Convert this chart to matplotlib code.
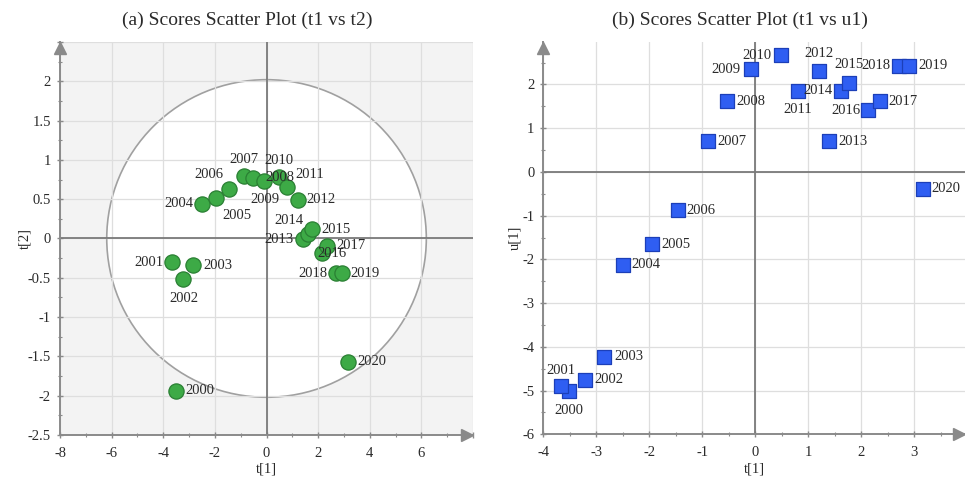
import matplotlib.pyplot as plt
import numpy as np
from matplotlib.patches import Ellipse
from matplotlib.ticker import MultipleLocator

plt.rcParams['font.family'] = ['Liberation Serif', 'DejaVu Serif']

# scores per year
years = [str(y) for y in range(2000, 2021)]
t1 = [-3.51, -3.66, -3.22, -2.85, -2.50, -1.94, -1.46, -0.89, -0.53, -0.08,
      0.48, 0.81, 1.21, 1.40, 1.62, 1.77, 2.13, 2.35, 2.71, 2.91, 3.17]
t2 = [-1.94, -0.30, -0.52, -0.34, 0.44, 0.51, 0.63, 0.79, 0.77, 0.73,
      0.78, 0.65, 0.49, -0.01, 0.06, 0.12, -0.18, -0.09, -0.44, -0.44, -1.57]
u1 = [-5.01, -4.90, -4.75, -4.23, -2.12, -1.65, -0.88, 0.70, 1.62, 2.35,
      2.67, 1.85, 2.31, 0.70, 1.85, 2.04, 1.41, 1.62, 2.43, 2.43, -0.38]

# Hotelling T2 ellipse radii for the t1/t2 plot
t2_ellipse = (6.19, 2.02)

# label offsets in pixels (dx, dy) relative to each marker
off_a = {'2000': (9, 0), '2001': (-9, 0), '2002': (0, -19), '2003': (10, 0),
         '2004': (-9, 0), '2005': (20, -17), '2006': (-20, 14), '2007': (0, 17),
         '2008': (13, 0), '2009': (0, -18), '2010': (0, 17), '2011': (22, 13),
         '2012': (9, 0), '2013': (-9, 0), '2014': (-19, 13), '2015': (9, 0),
         '2016': (10, -1), '2017': (9, 0), '2018': (-9, 0), '2019': (9, 0),
         '2020': (9, 0)}
off_b = {'2000': (0, -19), '2001': (0, 16), '2002': (10, 0), '2003': (10, 0),
         '2004': (9, 0), '2005': (9, 0), '2006': (9, 0), '2007': (9, 0),
         '2008': (9, 0), '2009': (-10, 0), '2010': (-9, 0), '2011': (0, -19),
         '2012': (0, 17), '2013': (9, 0), '2014': (-9, 0), '2015': (0, 18),
         '2016': (-8, 0), '2017': (9, 0), '2018': (-8, 0), '2019': (9, 0),
         '2020': (8, 0)}

AX_COL = '#8a8a8a'
GRID_COL = '#dedede'
TXT_COL = '#2a2a2a'
W, H = 965, 479


def style_axes(ax, xmajor, ymajor):
    ax.xaxis.set_major_locator(MultipleLocator(xmajor))
    ax.yaxis.set_major_locator(MultipleLocator(ymajor))
    ax.xaxis.set_minor_locator(MultipleLocator(xmajor / 2))
    ax.yaxis.set_minor_locator(MultipleLocator(ymajor / 2))
    ax.grid(True, which='major', color=GRID_COL, lw=0.9)
    ax.set_axisbelow(True)
    for s in ('top', 'right'):
        ax.spines[s].set_visible(False)
    for s in ('left', 'bottom'):
        ax.spines[s].set_color(AX_COL)
        ax.spines[s].set_linewidth(1.4)
    ax.tick_params(which='major', length=5, width=1, color=AX_COL,
                   direction='inout', labelsize=10.5, labelcolor=TXT_COL, pad=4)
    ax.tick_params(axis='x', which='major', pad=6)
    ax.tick_params(which='minor', length=3, width=0.8, color=AX_COL,
                   direction='inout')
    ax.axhline(0, color='#7a7a7a', lw=1.3, zorder=1)
    ax.axvline(0, color='#7a7a7a', lw=1.3, zorder=1)
    # arrow heads on the axis lines
    ax.plot(0, 0.985, marker='^', ms=8, color=AX_COL, transform=ax.transAxes,
            clip_on=False, zorder=5)
    ax.plot(0.985, 0, marker='>', ms=8, color=AX_COL, transform=ax.transAxes,
            clip_on=False, zorder=5)


def make_fmt(xmax):
    # no label on the tick that sits under the arrow head
    def fmt(v, pos=None):
        if v >= xmax - 1e-9:
            return ''
        return '%g' % v
    return fmt


def label_points(ax, xs, ys, offsets):
    for name, x, y in zip(years, xs, ys):
        dx, dy = offsets[name]
        ha = 'left' if dx > 0 and dy == 0 else ('right' if dx < 0 and dy == 0 else 'center')
        ax.annotate(name, (x, y), xytext=(dx * 0.72, dy * 0.72),
                    textcoords='offset points', ha=ha, va='center',
                    fontsize=10.5, color=TXT_COL, zorder=4)


fig = plt.figure(figsize=(W / 100, H / 100), dpi=100)

# (a) t1 vs t2
ax1 = fig.add_axes([0.0622, 0.0919, 0.428, 0.8205])
ax1.set_facecolor('#f3f3f3')
ax1.set_xlim(-8, 8)
ax1.set_ylim(-2.5, 2.5)
ax1.add_patch(Ellipse((0, 0), 2 * t2_ellipse[0], 2 * t2_ellipse[1],
                      fc='white', ec='#a0a0a0', lw=1.2, zorder=0.2))
style_axes(ax1, 2, 0.5)
ax1.xaxis.set_major_formatter(make_fmt(8))
ax1.yaxis.set_major_formatter(make_fmt(2.5))
ax1.scatter(t1, t2, s=120, marker='o', c='#3daa46', edgecolors='#2a7f33',
            linewidths=0.9, zorder=3)
label_points(ax1, t1, t2, off_a)
ax1.set_xlabel('t[1]', fontsize=10.5, color=TXT_COL)
ax1.set_ylabel('t[2]', fontsize=10.5, color=TXT_COL)
ax1.xaxis.set_label_coords(0.5, -0.071)
ax1.yaxis.set_label_coords(-0.07, 0.5)

# (b) t1 vs u1
ax2 = fig.add_axes([0.563, 0.0933, 0.437, 0.819])
ax2.set_facecolor('white')
ax2.set_xlim(-4, 3.96)
ax2.set_ylim(-6, 2.97)
style_axes(ax2, 1, 1)
ax2.xaxis.set_major_formatter(make_fmt(3.96))
ax2.yaxis.set_major_formatter(make_fmt(2.97))
ax2.scatter(t1, u1, s=95, marker='s', c='#2f5ef2', edgecolors='#1c3fb8',
            linewidths=0.9, zorder=3)
label_points(ax2, t1, u1, off_b)
ax2.set_xlabel('t[1]', fontsize=10.5, color=TXT_COL)
ax2.set_ylabel('u[1]', fontsize=10.5, color=TXT_COL)
ax2.xaxis.set_label_coords(0.5, -0.073)
ax2.yaxis.set_label_coords(-0.053, 0.5)

fig.text(247 / W, 1 - 20 / H, '(a) Scores Scatter Plot (t1 vs t2)',
         ha='center', va='center', fontsize=14, color=TXT_COL)
fig.text(740 / W, 1 - 20 / H, '(b) Scores Scatter Plot (t1 vs u1)',
         ha='center', va='center', fontsize=14, color=TXT_COL)

fig.savefig('out.png', dpi=100)
